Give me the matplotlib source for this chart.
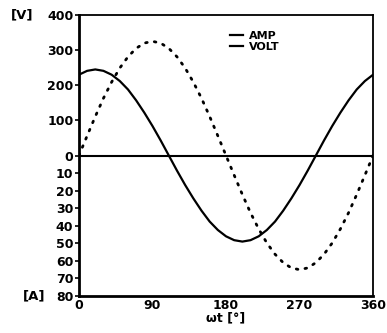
import numpy as np
import matplotlib
matplotlib.use('Agg')
import matplotlib.pyplot as plt
from matplotlib.lines import Line2D

# ---- data (upper half in V, lower half in A x 5) ----
angle = [0, 10, 20, 30, 40, 50, 60, 70, 80, 90, 100, 110, 120, 130, 140,
         150, 160, 170, 180, 190, 200, 210, 220, 230, 240, 250, 260, 270,
         280, 290, 300, 310, 320, 330, 340, 350, 360]

amp = [230, 241, 245, 241, 230, 212, 188, 157, 122, 84, 43, 0, -43, -84,
       -122, -157, -188, -212, -230, -241, -245, -241, -230, -212, -188,
       -157, -122, -84, -43, 0, 43, 84, 122, 157, 188, 212, 230]

volt = [0, 56, 111, 163, 209, 249, 281, 305, 320, 325, 320, 305, 281, 249,
        209, 163, 111, 56, 0, -56, -111, -163, -209, -249, -281, -305, -320,
        -325, -320, -305, -281, -249, -209, -163, -111, -56, 0]

ytick_pos = [-400, -350, -300, -250, -200, -150, -100, -50, 0, 100, 200, 300, 400]
ytick_lab = ['80', '70', '60', '50', '40', '30', '20', '10', '0',
             '100', '200', '300', '400']
xtick_pos = [0, 90, 180, 270, 360]
xtick_lab = ['0', '90', '180', '270', '360']

plt.rcParams['font.family'] = 'DejaVu Sans'
plt.rcParams['font.weight'] = 'bold'

fig = plt.figure(figsize=(3.87, 3.33), dpi=100)
ax = fig.add_axes([0.204, 0.111, 0.76, 0.844])

ax.plot(angle, amp, color='black', linewidth=1.6, solid_capstyle='round')
ax.plot(angle, volt, color='black', linewidth=2.0,
        linestyle=(0, (0.6, 2.6)), dash_capstyle='round')
ax.axhline(0, color='black', linewidth=1.5)

ax.set_xlim(0, 360)
ax.set_ylim(-400, 400)

ax.set_xticks(xtick_pos)
ax.set_xticklabels(xtick_lab, fontsize=9, fontweight='bold')
ax.set_yticks(ytick_pos)
ax.set_yticklabels(ytick_lab, fontsize=9, fontweight='bold')
ax.tick_params(axis='y', direction='out', length=3, width=1.2, pad=1)
ax.tick_params(axis='x', direction='in', length=0, pad=2)

for side in ['left', 'bottom']:
    ax.spines[side].set_linewidth(2.0)
for side in ['top', 'right']:
    ax.spines[side].set_linewidth(1.3)

ax.set_xlabel('ωt [°]', fontsize=9, fontweight='bold', labelpad=0)

ax.text(-0.23, 1.0, '[V]', transform=ax.transAxes, fontsize=9.5,
        fontweight='bold', ha='left', va='center')
ax.text(-0.19, 0.0, '[A]', transform=ax.transAxes, fontsize=9.5,
        fontweight='bold', ha='left', va='center')

handles = [Line2D([], [], color='black', linewidth=1.6),
           Line2D([], [], color='black', linewidth=1.6)]
ax.legend(handles, ['AMP', 'VOLT'], loc='upper left',
          bbox_to_anchor=(0.48, 0.98), frameon=False, fontsize=8,
          handlelength=1.2, handletextpad=0.5, labelspacing=0.15,
          prop={'weight': 'bold', 'size': 8})

fig.savefig('out.png', dpi=100)
